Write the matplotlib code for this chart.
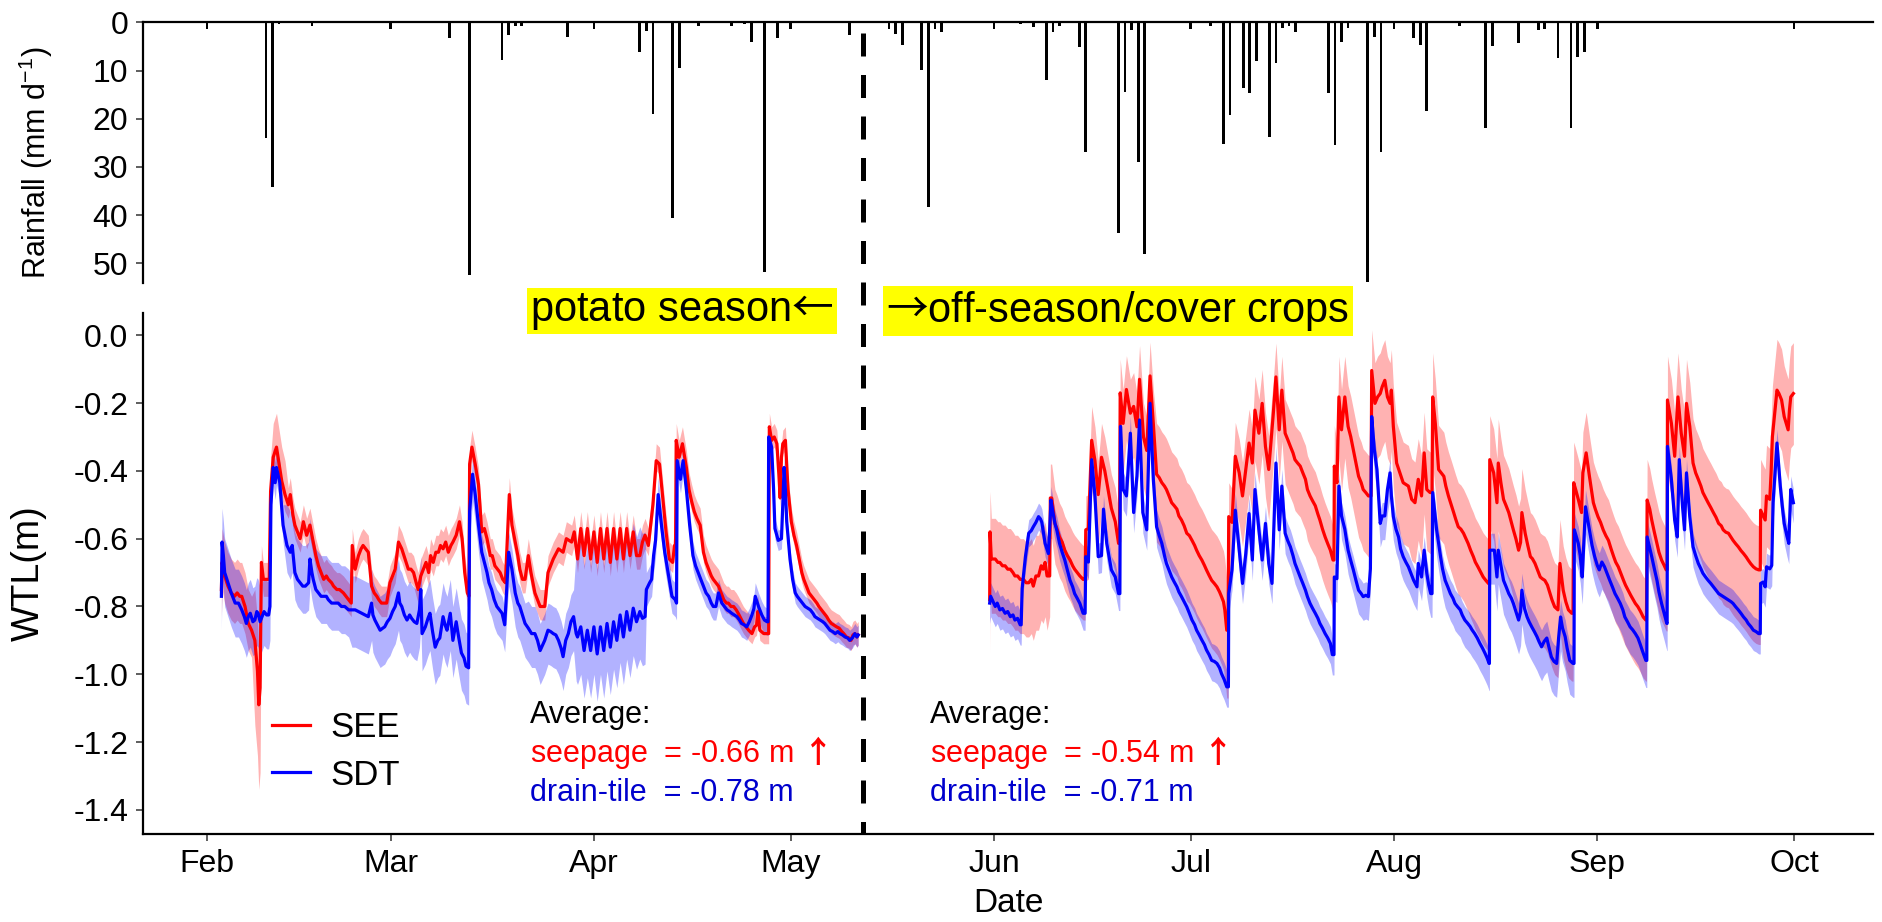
import numpy as np
import matplotlib
matplotlib.use("Agg")
import matplotlib.pyplot as plt
from matplotlib.lines import Line2D
from matplotlib.transforms import blended_transform_factory

plt.rcParams['font.family'] = ['Liberation Sans', 'DejaVu Sans']
plt.rcParams['axes.unicode_minus'] = False
plt.rcParams['mathtext.fontset'] = 'custom'
plt.rcParams['mathtext.rm'] = 'Liberation Sans'
plt.rcParams['mathtext.sf'] = 'Noto Sans CJK JP'
plt.rcParams['mathtext.bf'] = 'Noto Sans CJK JP:bold'
plt.rcParams['mathtext.default'] = 'regular'

# ---------------- data (day 0 = 1 Feb) ----------------
month_days = [0, 28, 59, 89, 120, 150, 181, 212, 242]
month_labels = ['Feb', 'Mar', 'Apr', 'May', 'Jun', 'Jul', 'Aug', 'Sep', 'Oct']
wtl_ticks = [-1.4, -1.2, -1.0, -0.8, -0.6, -0.4, -0.2, 0.0]
wtl_tick_labels = ['-1.4', '-1.2', '-1.0', '-0.8', '-0.6', '-0.4', '-0.2', '0.0']
rain_ticks = [0, 10, 20, 30, 40, 50]

rain_day = [0, 9, 10, 11, 16, 28, 37, 40, 45, 46, 47, 48, 55, 59, 66, 67, 68, 71, 72, 75,
            80, 82, 83, 85, 87, 89, 98, 104, 105, 106, 109, 110, 111, 112, 120, 124, 126,
            128, 129, 130, 133, 134, 139, 140, 141, 142, 143, 150, 153, 155, 156, 158, 159,
            160, 162, 163, 164, 165, 166, 171, 172, 173, 174, 177, 178, 179, 181, 184, 185,
            186, 191, 195, 196, 200, 203, 204, 206, 208, 209, 210, 212, 242]
rain_mm = [1.4, 24.0, 34.1, 0.4, 0.7, 1.4, 3.2, 52.3, 7.8, 2.6, 0.7, 0.7, 3.0, 1.4, 6.1, 1.9,
           19.0, 40.6, 9.4, 0.7, 0.7, 0.3, 4.0, 51.8, 3.2, 1.4, 2.7, 1.4, 2.5, 4.7, 9.9, 38.3,
           1.4, 2.1, 1.4, 0.4, 0.9, 11.9, 2.1, 0.7, 5.2, 26.9, 43.7, 14.5, 1.7, 28.9, 48.0,
           1.4, 0.7, 25.2, 19.3, 13.7, 14.7, 8.1, 23.7, 8.5, 1.2, 0.7, 2.1, 14.7, 25.4, 4.0,
           1.2, 53.9, 3.0, 26.9, 1.4, 3.3, 4.7, 18.3, 0.7, 21.9, 5.0, 4.2, 1.7, 1.4, 7.5,
           21.9, 7.1, 6.1, 1.4, 1.4]

# SEE (seepage) water-table level, potato season: (day, m)
see_spring = [
    (2.2, -0.75), (2.3, -0.67), (2.7, -0.71), (3.2, -0.74), (3.7, -0.76), (4.2, -0.77), (4.6, -0.76),
    (5.0, -0.77), (5.3, -0.77), (5.8, -0.80), (6.3, -0.85), (6.8, -0.87), (7.3, -0.90), (7.7, -0.99),
    (7.9, -1.09), (8.1, -1.04), (8.3, -0.67), (8.6, -0.72), (9.1, -0.72), (9.5, -0.72), (9.7, -0.46),
    (10.1, -0.36), (10.6, -0.33), (11.0, -0.38), (11.4, -0.43), (11.9, -0.47), (12.4, -0.50),
    (12.7, -0.47), (13.1, -0.53), (13.4, -0.56), (13.8, -0.58), (14.2, -0.60), (14.7, -0.55),
    (15.2, -0.59), (15.7, -0.56), (16.2, -0.61), (16.6, -0.65), (17.0, -0.68), (17.4, -0.70),
    (17.8, -0.72), (18.2, -0.71), (18.5, -0.72), (19.0, -0.73), (19.3, -0.74), (19.8, -0.75),
    (20.2, -0.75), (20.8, -0.76), (21.2, -0.77), (21.6, -0.78), (22.0, -0.79), (22.15, -0.62),
    (22.6, -0.69), (23.1, -0.65), (23.5, -0.63), (23.8, -0.62), (24.2, -0.63), (24.6, -0.64),
    (25.1, -0.74), (25.5, -0.76), (25.9, -0.77), (26.2, -0.78), (26.6, -0.79), (27.0, -0.79),
    (27.4, -0.79), (27.9, -0.73), (28.3, -0.71), (28.7, -0.69), (29.2, -0.61), (29.7, -0.63),
    (30.2, -0.66), (30.7, -0.69), (31.1, -0.69), (31.5, -0.70), (31.9, -0.73), (32.2, -0.75),
    (32.6, -0.71), (33.0, -0.69), (33.4, -0.67), (33.8, -0.70), (34.1, -0.65), (34.5, -0.67),
    (34.9, -0.64), (35.3, -0.64), (35.6, -0.62), (36.0, -0.63), (36.4, -0.61), (36.8, -0.64),
    (37.2, -0.62), (37.5, -0.61), (38.0, -0.59), (38.5, -0.55), (38.9, -0.60), (39.3, -0.70),
    (39.7, -0.76), (39.95, -0.77), (40.05, -0.38), (40.4, -0.33), (40.9, -0.38), (41.4, -0.44),
    (41.9, -0.58), (42.3, -0.57), (42.7, -0.60), (43.2, -0.65), (43.5, -0.65), (43.9, -0.68),
    (44.3, -0.69), (44.7, -0.70), (45.1, -0.72), (45.5, -0.73), (45.8, -0.60), (46.1, -0.47),
    (46.5, -0.56), (47.0, -0.61), (47.4, -0.65), (47.7, -0.69), (48.1, -0.72), (48.5, -0.72),
    (49.0, -0.65), (49.4, -0.70), (50.0, -0.76), (50.8, -0.80), (51.5, -0.80), (52.0, -0.70),
    (52.8, -0.66), (53.6, -0.63), (54.3, -0.64), (54.8, -0.60), (55.6, -0.61), (56.0, -0.58),
    (56.5, -0.66), (57.0, -0.57), (57.5, -0.65), (58.0, -0.57), (58.5, -0.66), (59.0, -0.58),
    (59.5, -0.67), (60.0, -0.57), (60.5, -0.66), (61.0, -0.57), (61.5, -0.67), (62.0, -0.57),
    (62.5, -0.66), (63.0, -0.57), (63.5, -0.66), (64.0, -0.57), (64.5, -0.65), (65.0, -0.58),
    (65.5, -0.65), (66.0, -0.65), (66.4, -0.61), (66.8, -0.59), (67.3, -0.62), (67.7, -0.55),
    (68.0, -0.50), (68.5, -0.37), (69.0, -0.38), (69.5, -0.48), (70.0, -0.58), (70.5, -0.66),
    (71.0, -0.67), (71.3, -0.62), (71.45, -0.62), (71.55, -0.31), (72.0, -0.36), (72.5, -0.32),
    (73.1, -0.39), (73.5, -0.455), (73.9, -0.49), (74.3, -0.52), (74.7, -0.54), (75.2, -0.56),
    (75.7, -0.64), (76.1, -0.67), (76.5, -0.69), (76.9, -0.71), (77.2, -0.72), (77.6, -0.73),
    (78.0, -0.74), (78.4, -0.76), (78.8, -0.78), (79.2, -0.79), (79.5, -0.79), (79.9, -0.80),
    (80.3, -0.80), (80.7, -0.81), (81.0, -0.82), (81.4, -0.835), (81.8, -0.85), (82.2, -0.86),
    (82.6, -0.87), (83.1, -0.88), (83.5, -0.86), (83.8, -0.855), (84.0, -0.815), (84.3, -0.87),
    (84.9, -0.88), (85.5, -0.88), (85.65, -0.88), (85.75, -0.27), (86.1, -0.31), (86.5, -0.30),
    (86.9, -0.32), (87.2, -0.41), (87.4, -0.48), (87.6, -0.36), (87.8, -0.32), (88.2, -0.31),
    (88.6, -0.455), (89.1, -0.55), (89.5, -0.59), (89.9, -0.62), (90.3, -0.66), (90.7, -0.70),
    (91.0, -0.72), (91.4, -0.74), (91.8, -0.76), (92.2, -0.77), (92.6, -0.78), (93.0, -0.79),
    (93.3, -0.80), (93.7, -0.81), (94.1, -0.82), (94.5, -0.83), (94.8, -0.84), (95.2, -0.85),
    (95.6, -0.855), (96.0, -0.86), (96.4, -0.864), (96.8, -0.874), (97.1, -0.88), (97.5, -0.89),
    (97.9, -0.893), (98.2, -0.90), (98.5, -0.884), (98.8, -0.88), (99.1, -0.89), (99.3, -0.884)]

# SDT (drain-tile) water-table level, potato season
sdt_spring = [
    (2.2, -0.77), (2.3, -0.61), (2.5, -0.65), (2.7, -0.70), (3.2, -0.73), (3.7, -0.76), (4.3, -0.79),
    (4.8, -0.79), (5.3, -0.81), (5.7, -0.83), (6.0, -0.85), (6.3, -0.83), (6.6, -0.82), (7.0, -0.845),
    (7.3, -0.84), (7.6, -0.815), (7.8, -0.82), (8.1, -0.845), (8.3, -0.835), (8.7, -0.815),
    (9.1, -0.825), (9.4, -0.825), (9.6, -0.80), (9.75, -0.50), (10.1, -0.39), (10.4, -0.435),
    (10.6, -0.39), (11.1, -0.435), (11.6, -0.56), (12.2, -0.62), (12.7, -0.64), (13.0, -0.62),
    (13.4, -0.70), (13.8, -0.72), (14.2, -0.73), (14.6, -0.74), (15.0, -0.74), (15.5, -0.73),
    (15.7, -0.66), (16.0, -0.70), (16.2, -0.72), (16.6, -0.75), (17.0, -0.76), (17.4, -0.77),
    (17.8, -0.77), (18.2, -0.77), (18.5, -0.78), (19.0, -0.79), (19.5, -0.79), (20.0, -0.79),
    (20.5, -0.80), (21.0, -0.80), (21.6, -0.81), (22.1, -0.81), (22.6, -0.81), (23.1, -0.815),
    (23.6, -0.82), (24.1, -0.825), (24.6, -0.83), (25.1, -0.79), (25.3, -0.825), (25.6, -0.84),
    (26.0, -0.855), (26.4, -0.87), (26.8, -0.864), (27.1, -0.86), (27.5, -0.845), (27.9, -0.835),
    (28.3, -0.815), (28.7, -0.80), (29.2, -0.76), (29.4, -0.79), (29.7, -0.80), (30.1, -0.825),
    (30.5, -0.84), (30.9, -0.825), (31.2, -0.835), (31.6, -0.845), (32.0, -0.85), (32.4, -0.81),
    (32.6, -0.75), (32.8, -0.88), (33.3, -0.86), (33.7, -0.835), (34.0, -0.82), (34.4, -0.874),
    (34.8, -0.92), (35.2, -0.90), (35.5, -0.893), (36.0, -0.83), (36.3, -0.854), (36.6, -0.87),
    (37.1, -0.82), (37.5, -0.90), (38.0, -0.845), (38.4, -0.893), (38.8, -0.937), (39.2, -0.952),
    (39.5, -0.976), (39.9, -0.981), (40.05, -0.52), (40.5, -0.41), (40.9, -0.47), (41.4, -0.56),
    (41.9, -0.64), (42.3, -0.67), (42.7, -0.70), (43.0, -0.73), (43.4, -0.75), (43.8, -0.78),
    (44.2, -0.80), (44.6, -0.81), (45.0, -0.82), (45.4, -0.854), (45.7, -0.75), (46.0, -0.64),
    (46.5, -0.69), (47.0, -0.76), (47.4, -0.79), (47.7, -0.80), (48.1, -0.825), (48.5, -0.85),
    (49.0, -0.864), (49.5, -0.88), (50.0, -0.88), (50.4, -0.90), (50.8, -0.93), (51.2, -0.913),
    (51.5, -0.90), (52.0, -0.87), (52.4, -0.874), (52.8, -0.88), (53.2, -0.884), (53.6, -0.90),
    (54.0, -0.923), (54.3, -0.948), (54.7, -0.90), (55.1, -0.88), (55.5, -0.845), (55.9, -0.83),
    (56.3, -0.88), (56.5, -0.89), (57.0, -0.86), (57.5, -0.93), (58.0, -0.87), (58.5, -0.93),
    (59.0, -0.86), (59.5, -0.94), (60.0, -0.86), (60.5, -0.93), (61.0, -0.85), (61.5, -0.92),
    (62.0, -0.845), (62.5, -0.90), (63.0, -0.825), (63.5, -0.89), (64.0, -0.815), (64.5, -0.87),
    (65.0, -0.805), (65.5, -0.845), (66.0, -0.815), (66.4, -0.835), (66.8, -0.83), (67.0, -0.75),
    (67.5, -0.73), (67.8, -0.72), (68.1, -0.65), (68.4, -0.605), (68.8, -0.47), (69.3, -0.56),
    (69.8, -0.64), (70.4, -0.71), (70.9, -0.77), (71.4, -0.78), (71.6, -0.79), (71.7, -0.37),
    (72.2, -0.425), (72.6, -0.37), (73.1, -0.455), (73.6, -0.56), (74.1, -0.65), (74.5, -0.68),
    (74.9, -0.70), (75.3, -0.72), (75.7, -0.74), (76.1, -0.76), (76.5, -0.77), (76.9, -0.79),
    (77.2, -0.80), (77.6, -0.80), (78.0, -0.76), (78.5, -0.79), (78.9, -0.80), (79.3, -0.81),
    (79.7, -0.815), (80.0, -0.82), (80.4, -0.825), (80.8, -0.83), (81.2, -0.84), (81.5, -0.85),
    (81.9, -0.854), (82.3, -0.86), (82.7, -0.845), (83.1, -0.825), (83.4, -0.806), (83.6, -0.77),
    (84.1, -0.80), (84.6, -0.825), (85.0, -0.84), (85.4, -0.845), (85.55, -0.845), (85.65, -0.30),
    (86.1, -0.33), (86.4, -0.455), (86.6, -0.57), (87.1, -0.605), (87.6, -0.60), (87.8, -0.50),
    (88.0, -0.39), (88.2, -0.455), (88.4, -0.55), (88.9, -0.66), (89.3, -0.72), (89.7, -0.76),
    (90.0, -0.77), (90.4, -0.78), (90.8, -0.79), (91.2, -0.80), (91.6, -0.805), (92.0, -0.81),
    (92.4, -0.82), (92.7, -0.83), (93.1, -0.835), (93.5, -0.84), (93.9, -0.845), (94.2, -0.85),
    (94.6, -0.86), (95.0, -0.87), (95.4, -0.874), (95.8, -0.88), (96.2, -0.874), (96.5, -0.88),
    (96.9, -0.884), (97.3, -0.89), (97.7, -0.893), (98.0, -0.90), (98.4, -0.893), (98.8, -0.88),
    (99.1, -0.89), (99.3, -0.884)]

# SEE, off-season / cover crops
see_summer = [
    (119.35, -0.78), (119.4, -0.58), (119.6, -0.66), (120.2, -0.66), (120.6, -0.67), (120.9, -0.67),
    (121.3, -0.68), (121.7, -0.68), (122.1, -0.69), (122.5, -0.69), (122.9, -0.70), (123.2, -0.71),
    (123.6, -0.71), (124.0, -0.72), (124.5, -0.72), (124.9, -0.73), (125.3, -0.73), (125.7, -0.72),
    (126.0, -0.74), (126.4, -0.71), (126.8, -0.71), (127.2, -0.68), (127.5, -0.69), (127.8, -0.67),
    (128.1, -0.71), (128.5, -0.71), (128.6, -0.48), (128.8, -0.48), (129.3, -0.555), (129.6, -0.57),
    (130.0, -0.595), (130.4, -0.61), (130.8, -0.634), (131.2, -0.65), (131.6, -0.663), (132.0, -0.68),
    (132.3, -0.69), (132.7, -0.70), (133.1, -0.71), (133.6, -0.72), (133.9, -0.72), (134.0, -0.574),
    (134.4, -0.57), (134.9, -0.31), (135.4, -0.37), (135.9, -0.47), (136.2, -0.41), (136.4, -0.36),
    (136.9, -0.40), (137.4, -0.455), (137.9, -0.51), (138.5, -0.55), (139.0, -0.614), (139.15, -0.61),
    (139.25, -0.17), (139.7, -0.26), (140.2, -0.16), (140.8, -0.23), (141.3, -0.21), (141.8, -0.27),
    (142.2, -0.13), (142.8, -0.30), (143.3, -0.34), (143.8, -0.12), (144.3, -0.26), (144.8, -0.41),
    (145.2, -0.42), (145.6, -0.435), (146.0, -0.445), (146.3, -0.455), (146.7, -0.474), (147.1, -0.494),
    (147.5, -0.503), (147.9, -0.513), (148.2, -0.533), (148.6, -0.545), (149.0, -0.562), (149.4, -0.584),
    (149.8, -0.591), (150.2, -0.605), (150.6, -0.62), (150.9, -0.634), (151.3, -0.65), (151.7, -0.663),
    (152.1, -0.679), (152.4, -0.692), (152.8, -0.708), (153.2, -0.723), (153.6, -0.732), (154.0, -0.742),
    (154.4, -0.757), (154.7, -0.771), (155.0, -0.786), (155.2, -0.81), (155.5, -0.87), (155.7, -0.87),
    (155.8, -0.535), (156.3, -0.552), (156.8, -0.357), (157.4, -0.406), (157.9, -0.474), (158.4, -0.396),
    (158.9, -0.318), (159.4, -0.377), (159.8, -0.221), (160.4, -0.289), (160.9, -0.201), (161.4, -0.328),
    (161.9, -0.396), (162.6, -0.23), (163.0, -0.123), (163.5, -0.279), (163.9, -0.162), (164.4, -0.289),
    (164.8, -0.308), (165.2, -0.328), (165.6, -0.347), (165.9, -0.367), (166.3, -0.377), (166.7, -0.386),
    (167.1, -0.406), (167.5, -0.425), (167.8, -0.455), (168.2, -0.474), (168.6, -0.489), (169.0, -0.503),
    (169.4, -0.528), (169.7, -0.545), (170.1, -0.572), (170.5, -0.595), (170.9, -0.615), (171.3, -0.634),
    (171.7, -0.663), (171.85, -0.663), (171.9, -0.386), (172.3, -0.435), (172.6, -0.182), (173.0, -0.279),
    (173.5, -0.182), (174.0, -0.269), (174.4, -0.299), (174.8, -0.338), (175.2, -0.377), (175.6, -0.416),
    (176.0, -0.435), (176.3, -0.455), (176.7, -0.464), (177.1, -0.474), (177.5, -0.474), (177.6, -0.104),
    (178.1, -0.201), (178.5, -0.182), (178.9, -0.172), (179.2, -0.152), (179.6, -0.133), (180.0, -0.182),
    (180.4, -0.201), (180.6, -0.162), (180.9, -0.269), (181.4, -0.377), (181.9, -0.406), (182.4, -0.435),
    (182.8, -0.44), (183.2, -0.445), (183.7, -0.484), (184.2, -0.494), (184.7, -0.425), (185.2, -0.474),
    (185.6, -0.347), (186.0, -0.455), (186.5, -0.464), (186.8, -0.464), (186.9, -0.182), (187.3, -0.26),
    (187.8, -0.396), (188.2, -0.406), (188.6, -0.416), (188.9, -0.445), (189.3, -0.474), (189.7, -0.498),
    (190.1, -0.523), (190.4, -0.542), (190.8, -0.565), (191.2, -0.572), (191.6, -0.584), (192.0, -0.601),
    (192.3, -0.614), (192.7, -0.635), (193.1, -0.653), (193.4, -0.669), (193.8, -0.683), (194.2, -0.698),
    (194.6, -0.713), (195.0, -0.723), (195.4, -0.732), (195.55, -0.732), (195.6, -0.367), (196.2, -0.406),
    (196.7, -0.494), (196.9, -0.377), (197.3, -0.435), (197.7, -0.484), (198.1, -0.503), (198.5, -0.523),
    (198.9, -0.552), (199.2, -0.574), (199.6, -0.601), (200.0, -0.634), (200.3, -0.611), (200.5, -0.523),
    (201.0, -0.584), (201.4, -0.62), (201.8, -0.653), (202.1, -0.659), (202.5, -0.673), (202.9, -0.693),
    (203.3, -0.713), (203.6, -0.718), (204.0, -0.723), (204.4, -0.737), (204.8, -0.762), (205.1, -0.781),
    (205.5, -0.801), (206.0, -0.81), (206.3, -0.673), (206.8, -0.752), (207.2, -0.786), (207.6, -0.81),
    (208.1, -0.82), (208.3, -0.82), (208.4, -0.435), (208.7, -0.455), (209.1, -0.484), (209.6, -0.523),
    (209.8, -0.406), (210.3, -0.347), (210.8, -0.416), (211.4, -0.494), (211.7, -0.513), (212.1, -0.535),
    (212.5, -0.552), (212.9, -0.574), (213.3, -0.591), (213.7, -0.605), (214.1, -0.63), (214.5, -0.653),
    (214.8, -0.669), (215.2, -0.683), (215.6, -0.703), (216.0, -0.723), (216.3, -0.737), (216.7, -0.752),
    (217.1, -0.767), (217.5, -0.781), (217.8, -0.791), (218.2, -0.801), (218.6, -0.815), (219.0, -0.831),
    (219.4, -0.84), (219.5, -0.84), (219.6, -0.486), (220.0, -0.513), (220.3, -0.545), (220.7, -0.581),
    (221.1, -0.614), (221.4, -0.64), (221.8, -0.663), (222.2, -0.679), (222.5, -0.692), (222.65, -0.692),
    (222.7, -0.191), (223.3, -0.26), (223.8, -0.357), (224.3, -0.182), (224.8, -0.289), (225.3, -0.357),
    (225.6, -0.201), (226.1, -0.269), (226.6, -0.377), (227.0, -0.406), (227.4, -0.425), (227.8, -0.445),
    (228.1, -0.464), (228.5, -0.479), (228.9, -0.494), (229.3, -0.508), (229.7, -0.523), (230.1, -0.537),
    (230.5, -0.555), (230.9, -0.562), (231.2, -0.574), (231.6, -0.581), (232.0, -0.584), (232.4, -0.596),
    (232.7, -0.605), (233.1, -0.615), (233.5, -0.624), (233.9, -0.635), (234.3, -0.644), (234.7, -0.654),
    (235.0, -0.663), (235.4, -0.674), (235.8, -0.683), (236.2, -0.689), (236.6, -0.692), (236.85, -0.692),
    (236.9, -0.516), (237.3, -0.533), (237.6, -0.545), (237.8, -0.474), (238.3, -0.484), (238.5, -0.406),
    (238.7, -0.299), (239.1, -0.221), (239.4, -0.162), (239.7, -0.172), (240.1, -0.191), (240.5, -0.24),
    (240.8, -0.26), (241.1, -0.279), (241.3, -0.221), (241.5, -0.182), (241.9, -0.172)]

# SDT, off-season / cover crops
sdt_summer = [
    (119.35, -0.79), (119.5, -0.77), (120.2, -0.80), (120.5, -0.79), (120.9, -0.81), (121.3, -0.806),
    (121.7, -0.82), (122.1, -0.815), (122.5, -0.83), (122.9, -0.825), (123.2, -0.84), (123.6, -0.835),
    (124.0, -0.854), (124.15, -0.854), (124.3, -0.747), (124.8, -0.653), (125.3, -0.584), (125.7, -0.576),
    (126.0, -0.565), (126.4, -0.552), (126.8, -0.535), (127.1, -0.542), (127.3, -0.552), (127.8, -0.614),
    (128.3, -0.644), (128.5, -0.572), (128.7, -0.486), (129.0, -0.523), (129.3, -0.555), (129.6, -0.576),
    (130.0, -0.614), (130.4, -0.64), (130.8, -0.663), (131.2, -0.693), (131.6, -0.723), (132.0, -0.742),
    (132.3, -0.762), (132.7, -0.776), (133.1, -0.791), (133.6, -0.82), (133.9, -0.82), (134.0, -0.653),
    (134.4, -0.669), (134.9, -0.367), (135.4, -0.474), (135.9, -0.653), (136.4, -0.65), (136.7, -0.513),
    (137.2, -0.614), (137.9, -0.692), (138.5, -0.713), (139.0, -0.762), (139.2, -0.762), (139.3, -0.269),
    (139.7, -0.455), (140.2, -0.474), (140.8, -0.289), (141.3, -0.523), (141.8, -0.416), (142.2, -0.25),
    (142.7, -0.523), (143.3, -0.574), (143.8, -0.201), (144.3, -0.425), (144.8, -0.565), (145.2, -0.591),
    (145.6, -0.614), (146.0, -0.65), (146.3, -0.673), (146.7, -0.693), (147.1, -0.713), (147.5, -0.728),
    (147.9, -0.742), (148.2, -0.757), (148.6, -0.771), (149.0, -0.786), (149.4, -0.801), (149.8, -0.82),
    (150.2, -0.84), (150.6, -0.854), (150.9, -0.87), (151.3, -0.884), (151.7, -0.899), (152.1, -0.913),
    (152.4, -0.928), (152.8, -0.942), (153.2, -0.959), (153.6, -0.962), (154.0, -0.968), (154.4, -0.981),
    (154.7, -0.998), (155.1, -1.015), (155.5, -1.037), (155.75, -1.037), (155.8, -0.762), (156.3, -0.692),
    (156.8, -0.516), (157.4, -0.634), (157.9, -0.732), (158.4, -0.644), (158.9, -0.526), (159.4, -0.663),
    (159.8, -0.455), (160.4, -0.574), (160.9, -0.663), (161.4, -0.555), (161.9, -0.673), (162.4, -0.732),
    (163.0, -0.377), (163.5, -0.574), (163.9, -0.445), (164.4, -0.584), (164.8, -0.606), (165.2, -0.624),
    (165.6, -0.65), (165.9, -0.673), (166.3, -0.693), (166.7, -0.713), (167.1, -0.732), (167.5, -0.752),
    (167.8, -0.771), (168.2, -0.791), (168.6, -0.806), (169.0, -0.82), (169.4, -0.835), (169.7, -0.85),
    (170.1, -0.864), (170.5, -0.88), (170.9, -0.893), (171.3, -0.909), (171.6, -0.942), (171.85, -0.942),
    (171.9, -0.713), (172.3, -0.718), (172.6, -0.445), (173.0, -0.533), (173.5, -0.572), (174.0, -0.634),
    (174.4, -0.664), (174.8, -0.692), (175.2, -0.723), (175.6, -0.752), (176.0, -0.762), (176.3, -0.771),
    (176.7, -0.767), (177.1, -0.771), (177.4, -0.689), (177.6, -0.24), (178.0, -0.338), (178.4, -0.396),
    (178.9, -0.555), (179.2, -0.533), (179.6, -0.533), (180.0, -0.455), (180.4, -0.406), (180.6, -0.474),
    (180.9, -0.535), (181.3, -0.572), (181.7, -0.595), (182.0, -0.63), (182.4, -0.653), (182.8, -0.669),
    (183.2, -0.683), (183.6, -0.703), (184.0, -0.723), (184.5, -0.742), (184.7, -0.673), (185.2, -0.713),
    (185.6, -0.634), (186.0, -0.702), (186.3, -0.737), (186.6, -0.762), (186.8, -0.762), (186.9, -0.464),
    (187.5, -0.574), (188.1, -0.653), (188.4, -0.689), (188.8, -0.723), (189.2, -0.742), (189.6, -0.762),
    (190.0, -0.776), (190.3, -0.791), (190.7, -0.801), (191.1, -0.81), (191.4, -0.825), (191.8, -0.84),
    (192.2, -0.849), (192.6, -0.859), (192.9, -0.869), (193.3, -0.88), (193.7, -0.893), (194.1, -0.909),
    (194.5, -0.923), (194.9, -0.939), (195.2, -0.952), (195.5, -0.968), (195.55, -0.968), (195.6, -0.634),
    (196.3, -0.634), (196.7, -0.713), (196.9, -0.634), (197.3, -0.679), (197.7, -0.723), (198.1, -0.742),
    (198.5, -0.762), (198.9, -0.776), (199.2, -0.791), (199.6, -0.815), (200.0, -0.84), (200.3, -0.815),
    (200.5, -0.752), (200.9, -0.806), (201.3, -0.831), (201.6, -0.845), (202.0, -0.86), (202.4, -0.874),
    (202.8, -0.889), (203.1, -0.903), (203.5, -0.919), (203.9, -0.903), (204.3, -0.893), (204.6, -0.918),
    (205.0, -0.949), (205.4, -0.962), (205.8, -0.968), (206.1, -0.893), (206.4, -0.831), (206.7, -0.864),
    (207.1, -0.889), (207.4, -0.923), (207.8, -0.959), (208.3, -0.968), (208.45, -0.968), (208.5, -0.574),
    (209.1, -0.614), (209.4, -0.65), (209.7, -0.713), (210.2, -0.506), (210.8, -0.574), (211.2, -0.62),
    (211.6, -0.653), (212.0, -0.679), (212.3, -0.692), (212.7, -0.669), (213.1, -0.683), (213.5, -0.703),
    (213.9, -0.723), (214.3, -0.742), (214.7, -0.762), (215.1, -0.776), (215.5, -0.791), (215.9, -0.81),
    (216.2, -0.831), (216.6, -0.845), (217.0, -0.86), (217.4, -0.869), (217.8, -0.88), (218.2, -0.893),
    (218.5, -0.909), (218.9, -0.932), (219.4, -0.959), (219.55, -0.959), (219.6, -0.595), (219.9, -0.62),
    (220.3, -0.653), (220.7, -0.689), (221.1, -0.723), (221.4, -0.757), (221.8, -0.791), (222.2, -0.82),
    (222.6, -0.85), (222.65, -0.85), (222.7, -0.328), (223.3, -0.425), (223.8, -0.545), (224.2, -0.595),
    (224.5, -0.367), (225.0, -0.506), (225.3, -0.574), (225.6, -0.406), (226.1, -0.535), (226.6, -0.624),
    (227.0, -0.65), (227.4, -0.673), (227.8, -0.689), (228.1, -0.702), (228.5, -0.713), (228.9, -0.723),
    (229.3, -0.732), (229.7, -0.742), (230.1, -0.752), (230.5, -0.762), (230.9, -0.767), (231.2, -0.771),
    (231.6, -0.776), (232.0, -0.781), (232.4, -0.786), (232.7, -0.791), (233.1, -0.801), (233.5, -0.81),
    (233.9, -0.82), (234.3, -0.831), (234.7, -0.84), (235.0, -0.85), (235.4, -0.859), (235.8, -0.87),
    (236.2, -0.874), (236.6, -0.88), (236.85, -0.88), (236.9, -0.732), (237.3, -0.728), (237.6, -0.742),
    (237.8, -0.683), (238.3, -0.689), (238.6, -0.679), (238.8, -0.494), (239.1, -0.406), (239.4, -0.318),
    (239.9, -0.445), (240.2, -0.503), (240.5, -0.555), (240.9, -0.591), (241.2, -0.614), (241.5, -0.455),
    (241.9, -0.494)]

# ribbon half-widths (upper / lower spread around the mean), piecewise by start day
see_band_start = [2, 7.3, 8.3, 9.7, 12, 22, 40, 56, 67, 85.7, 119, 128.5, 134, 139.2, 144.5,
                  155.8, 171.9, 186.9, 208.4, 222.7, 236.9]
see_band_up = [0.10, 0.15, 0.05, 0.10, 0.05, 0.05, 0.05, 0.05, 0.05, 0.04, 0.12, 0.10, 0.10,
               0.10, 0.15, 0.10, 0.12, 0.13, 0.12, 0.13, 0.15]
see_band_dn = [0.08, 0.25, 0.05, 0.05, 0.04, 0.04, 0.04, 0.04, 0.03, 0.03, 0.16, 0.12, 0.15,
               0.15, 0.20, 0.15, 0.18, 0.20, 0.18, 0.22, 0.15]
sdt_band_start = [2, 9.75, 12, 22, 40.05, 46, 49, 56, 66.9, 71.7, 85.6, 119, 124.3, 128.5,
                  139.3, 155.8, 171.9, 186.9, 195.6, 208.5, 222.7]
sdt_band_up = [0.10, 0.06, 0.12, 0.10, 0.05, 0.06, 0.08, 0.25, 0.05, 0.04, 0.03, 0.04, 0.04,
               0.04, 0.05, 0.05, 0.04, 0.04, 0.05, 0.05, 0.04]
sdt_band_dn = [0.10, 0.05, 0.08, 0.11, 0.08, 0.10, 0.10, 0.14, 0.05, 0.04, 0.03, 0.06, 0.04,
               0.05, 0.06, 0.06, 0.07, 0.08, 0.10, 0.08, 0.06]

season_split_day = 100
avg_spring = {'seepage': -0.66, 'drain-tile': -0.78}
avg_summer = {'seepage': -0.54, 'drain-tile': -0.71}

# ---------------- figure ----------------
W, H = 1883, 922
fig = plt.figure(figsize=(W / 100, H / 100), dpi=100)
L, R = 143.3, 1873.0
ax1 = fig.add_axes([L / W, 1 - 282.7 / H, (R - L) / W, (282.7 - 22.3) / H])
ax2 = fig.add_axes([L / W, 1 - 834.0 / H, (R - L) / W, (834.0 - 312.5) / H])
xlim = (-9.71, 254.04)

RED, BLUE = '#FF0000', '#0000FF'
TXT_BLUE = '#0000CD'


def lookup(t, starts, vals):
    idx = np.searchsorted(np.asarray(starts), t, side='right') - 1
    idx = np.clip(idx, 0, len(vals) - 1)
    return np.asarray(vals)[idx]


series = [(see_spring, see_band_start, see_band_up, see_band_dn, RED, 'SEE'),
          (see_summer, see_band_start, see_band_up, see_band_dn, RED, None),
          (sdt_spring, sdt_band_start, sdt_band_up, sdt_band_dn, BLUE, 'SDT'),
          (sdt_summer, sdt_band_start, sdt_band_up, sdt_band_dn, BLUE, None)]

for data, st, up, dn, col, lab in series:
    t = np.array([p[0] for p in data])
    v = np.array([p[1] for p in data])
    ax2.fill_between(t, v - lookup(t, st, dn), v + lookup(t, st, up),
                     color=col, alpha=0.3, linewidth=0, zorder=1)

handles = {}
for data, st, up, dn, col, lab in series:
    t = np.array([p[0] for p in data])
    v = np.array([p[1] for p in data])
    ln, = ax2.plot(t, v, color=col, lw=2.3, zorder=3, solid_joinstyle='round')
    if lab:
        handles[lab] = ln

# rainfall
ax1.bar(rain_day, rain_mm, width=0.42, color='black', linewidth=0)
ax1.set_xlim(*xlim)
ax1.set_ylim(54.0, 0)
ax1.set_yticks(rain_ticks)
ax1.set_xticks([])
for s in ['bottom', 'right']:
    ax1.spines[s].set_visible(False)
for s in ['top', 'left']:
    ax1.spines[s].set_linewidth(1.6)
ax1.set_ylabel('Rainfall (mm d$^{-1}$)', fontsize=22, va='center')
ax1.yaxis.set_label_coords(-0.062, 0.46)

ax2.set_xlim(*xlim)
ax2.set_ylim(-1.471, 0.067)
ax2.set_yticks(wtl_ticks)
ax2.set_yticklabels(wtl_tick_labels)
ax2.set_xticks(month_days)
ax2.set_xticklabels(month_labels)
for s in ['top', 'right']:
    ax2.spines[s].set_visible(False)
for s in ['bottom', 'left']:
    ax2.spines[s].set_linewidth(1.6)
ax2.set_ylabel('WTL(m)', fontsize=27, va='center')
ax2.yaxis.set_label_coords(-0.066, 0.5)
ax2.set_xlabel('Date', fontsize=24, va='center')
ax2.xaxis.set_label_coords(0.5, -0.133)

for ax in (ax1, ax2):
    ax.tick_params(axis='both', labelsize=23, length=4.8, width=1.1, pad=6,
                   color='#333333', labelcolor='black', direction='out')

# season split line spanning both panels
tr = blended_transform_factory(ax2.transData, fig.transFigure)
fig.add_artist(Line2D([season_split_day, season_split_day], [1 - 33 / H, 1 - 834.0 / H],
                      transform=tr, color='black', lw=3.6,
                      linestyle=(0, (4.6, 3.7)), zorder=5))

# season labels (arrows drawn from a font with full-size arrow glyphs)
fig.text(682 / W, 1 - 311 / H, 'potato season$\\mathsf{\u2190}$', fontsize=30, ha='center',
         va='center', bbox=dict(facecolor='#FFFF00', edgecolor='none', pad=2))
fig.text(1118 / W, 1 - 311 / H, '$\\mathsf{\u2192}$off-season/cover crops', fontsize=30,
         ha='center', va='center', bbox=dict(facecolor='#FFFF00', edgecolor='none', pad=2))

# averages
for x0, avg in [(530, avg_spring), (930, avg_summer)]:
    fig.text(x0 / W, 1 - 723 / H, 'Average:', fontsize=22, color='black', va='baseline')
    fig.text(x0 / W, 1 - 761.7 / H,
             'seepage  = %.2f m ' % avg['seepage'] + '$\\mathbf{\u2191}$',
             fontsize=22, color=RED, va='baseline')
    fig.text(x0 / W, 1 - 800.7 / H, 'drain-tile  = %.2f m' % avg['drain-tile'], fontsize=22,
             color=TXT_BLUE, va='baseline')

leg = ax2.legend([handles['SEE'], handles['SDT']], ['SEE', 'SDT'], loc='upper left',
                 bbox_to_anchor=(271.7 / W, 1 - 711.0 / H), bbox_transform=fig.transFigure,
                 frameon=False, fontsize=25, handlelength=1.1, handletextpad=0.6,
                 labelspacing=0.42, borderpad=0, borderaxespad=0)

fig.savefig('out.png', dpi=100)
